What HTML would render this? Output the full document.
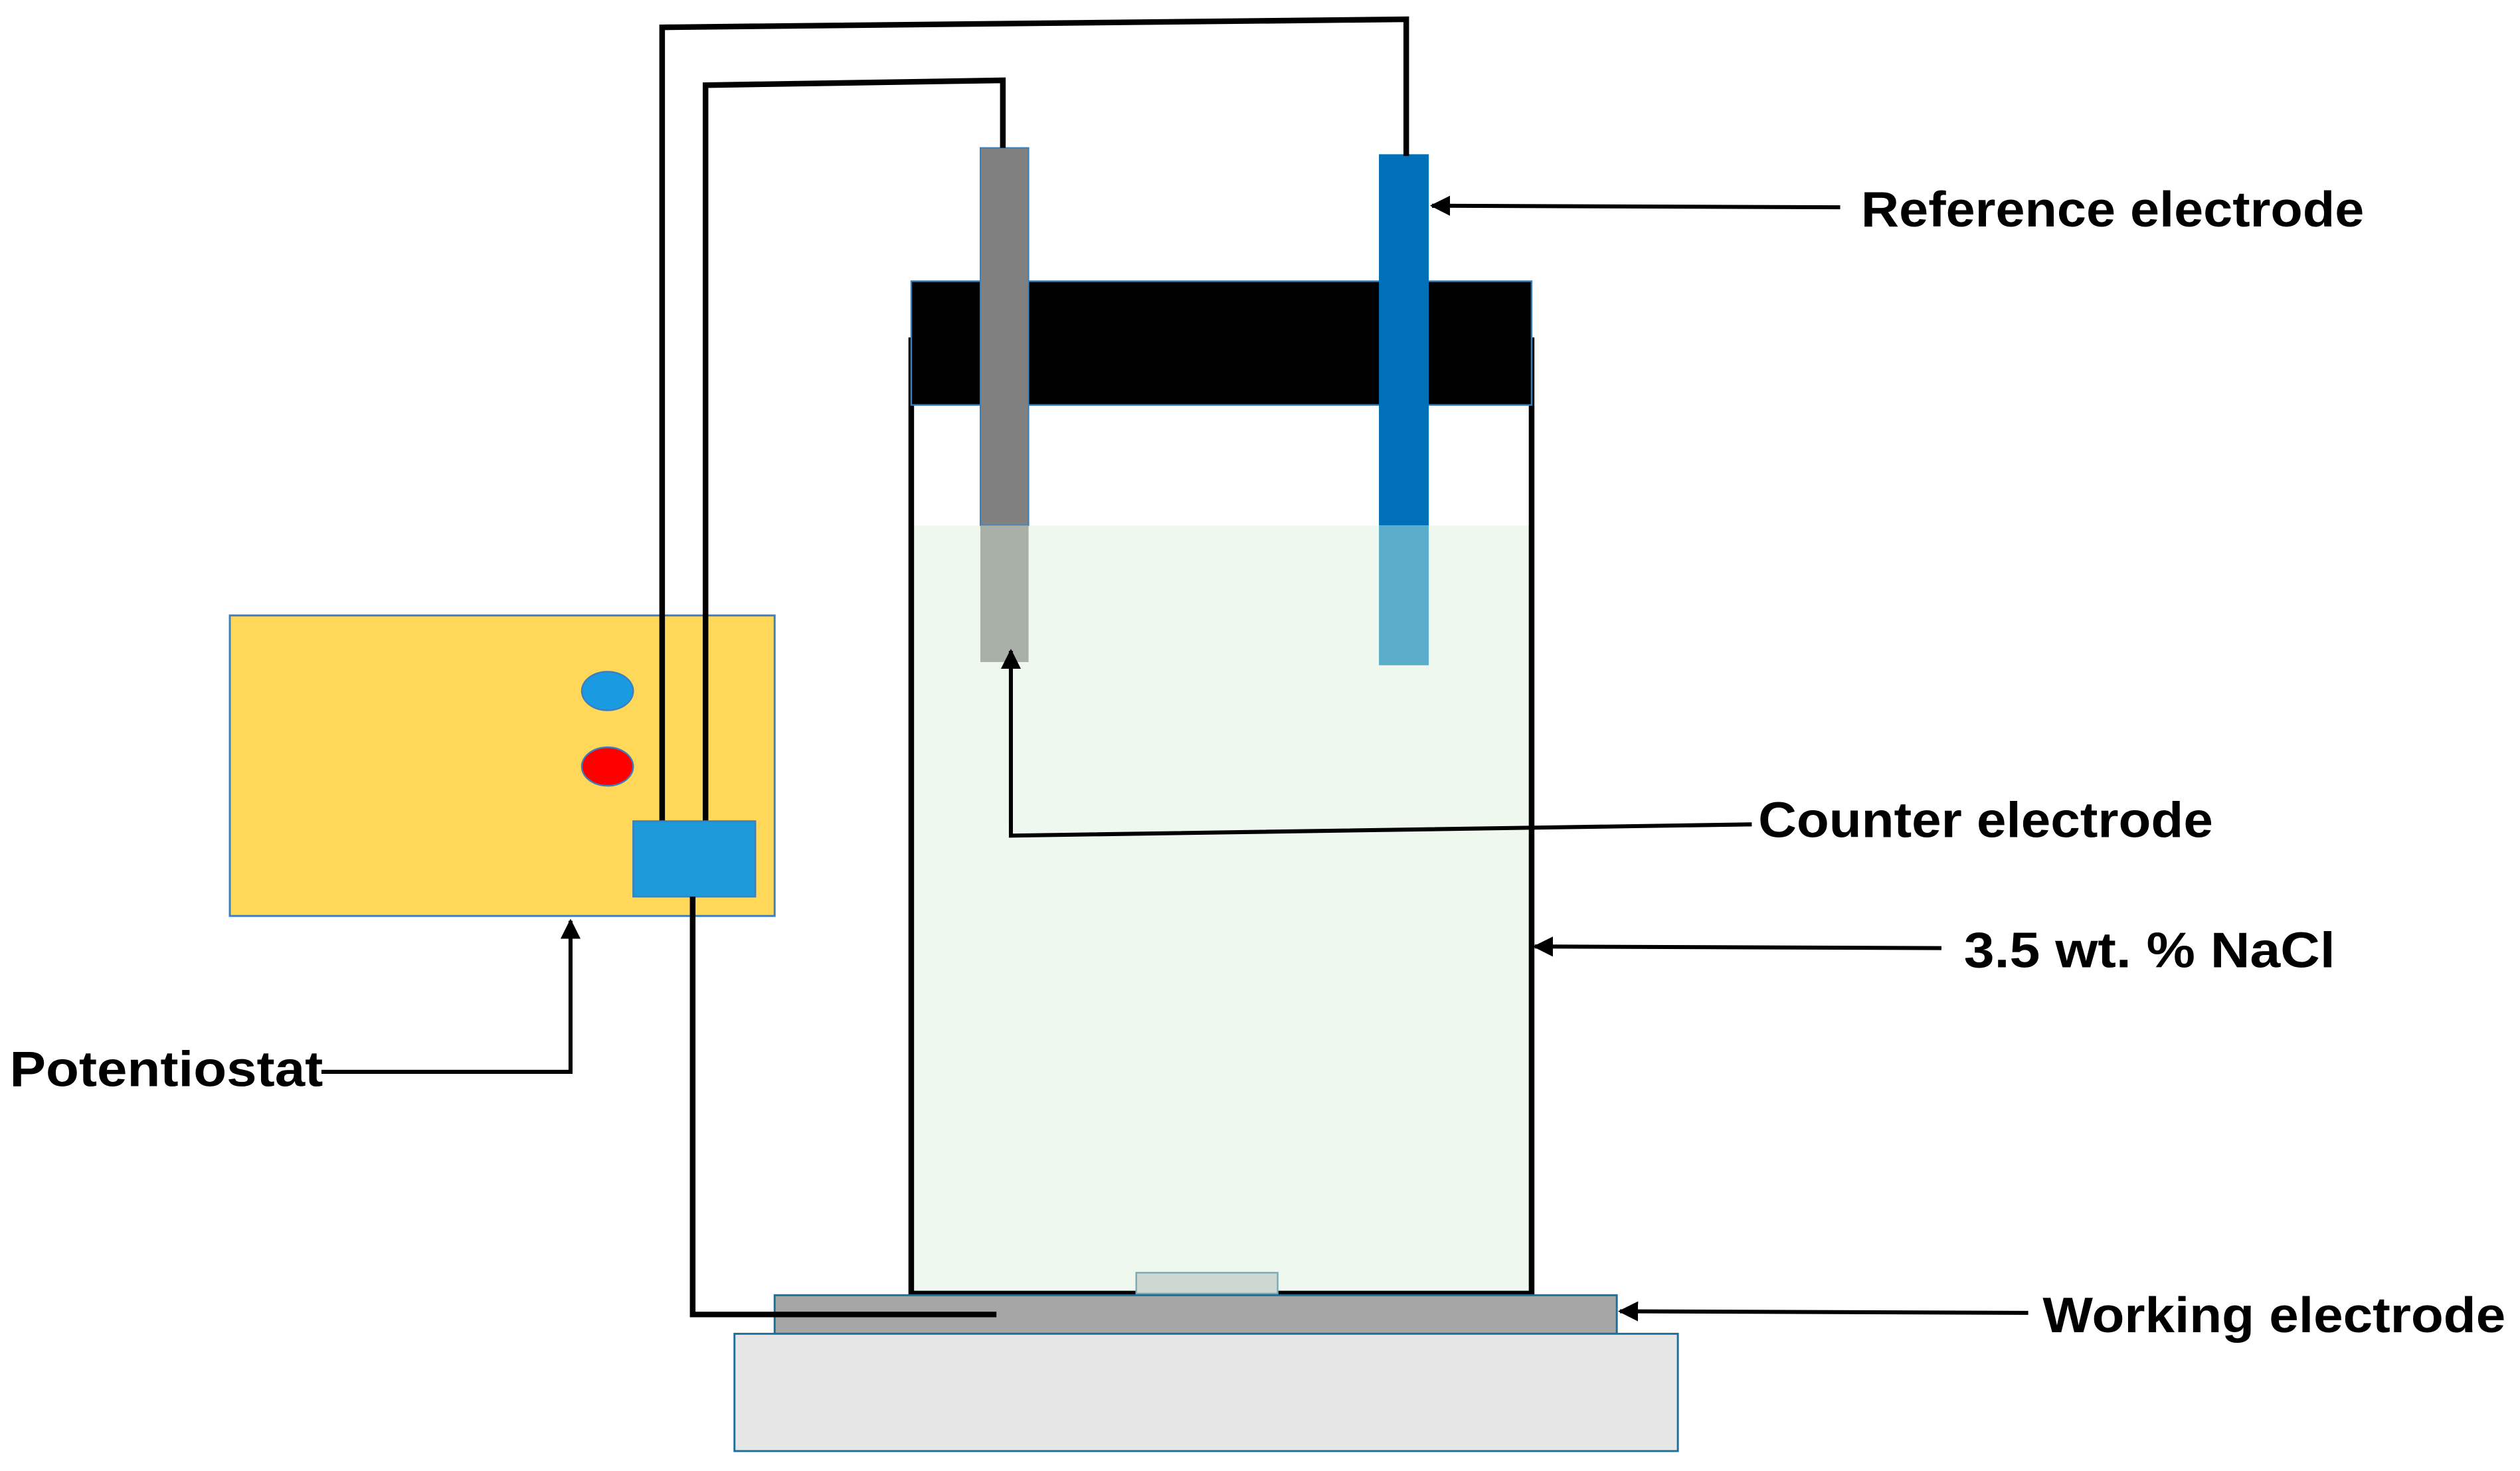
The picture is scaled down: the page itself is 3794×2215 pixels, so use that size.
<!DOCTYPE html>
<html><head><meta charset="utf-8"><style>
html,body{margin:0;padding:0;background:#fff;}
svg{display:block;}
text{font-family:"Liberation Sans",sans-serif;font-weight:bold;font-size:31px;fill:#000;}
</style></head><body>
<svg width="3794" height="2215" viewBox="0 0 1568 915.4" preserveAspectRatio="none" xmlns="http://www.w3.org/2000/svg">
<defs>
<marker id="ah" viewBox="0 0 10 10" refX="9" refY="5" markerWidth="5" markerHeight="5" orient="auto-start-reverse">
<path d="M0,0 L10,5 L0,10 Z" fill="#000"/></marker>
</defs>
<rect x="567" y="327" width="386" height="477" fill="#eef8ee"/>
<path d="M567,210 V805 H953 V210" fill="none" stroke="#000" stroke-width="3.5"/>
<rect x="567" y="175" width="386" height="77" fill="#000" stroke="#3a7fb8" stroke-width="1"/>
<rect x="610" y="92" width="30" height="235" fill="#808080" stroke="#3a7fb8" stroke-width="0.8"/>
<rect x="610" y="327" width="30" height="85" fill="#a8b0a8"/>
<rect x="858" y="96" width="31" height="231" fill="#0070b8"/>
<rect x="858" y="327" width="31" height="87" fill="#5aaecb"/>
<rect x="707" y="792" width="88" height="13" fill="#ccd8d0" stroke="#7aaab8" stroke-width="1"/>
<rect x="482" y="806" width="524" height="24" fill="#a6a6a6" stroke="#1a6e9a" stroke-width="1.2"/>
<rect x="457" y="830" width="587" height="73" fill="#e6e6e6" stroke="#1a6e9a" stroke-width="1.2"/>
<rect x="143" y="383" width="339" height="187" fill="#ffd85a" stroke="#3a7fc0" stroke-width="1.2"/>
<ellipse cx="378" cy="430" rx="16" ry="12" fill="#1a9ae0" stroke="#3a7fc0"/>
<ellipse cx="378" cy="477" rx="16" ry="12" fill="#ff0000" stroke="#3a7fc0"/>
<path d="M412,512 V17 L875,12 V97" fill="none" stroke="#000" stroke-width="3.5"/>
<path d="M439,512 V53 L624,50 V92" fill="none" stroke="#000" stroke-width="3.5"/>
<rect x="394" y="511" width="76" height="47" fill="#1e9ad8" stroke="#3a7fc0"/>
<path d="M431,558 V818 H620" fill="none" stroke="#000" stroke-width="3.5"/>
<g fill="none" stroke="#000" stroke-width="2.5">
<path d="M1145,129 L891,128" marker-end="url(#ah)"/>
<path d="M1090,513 L629,520 V405" marker-end="url(#ah)"/>
<path d="M1208,590 L955,589" marker-end="url(#ah)"/>
<path d="M1262,817 L1008,816" marker-end="url(#ah)"/>
<path d="M200,667 H355 V573" marker-end="url(#ah)"/>
</g>
<text x="1158" y="141" textLength="313" lengthAdjust="spacingAndGlyphs">Reference electrode</text>
<text x="1094" y="521" textLength="283" lengthAdjust="spacingAndGlyphs">Counter electrode</text>
<text x="1222" y="602" textLength="231" lengthAdjust="spacingAndGlyphs">3.5  wt. % NaCl</text>
<text x="1271" y="829" textLength="288" lengthAdjust="spacingAndGlyphs">Working electrode</text>
<text x="6" y="676" textLength="195" lengthAdjust="spacingAndGlyphs">Potentiostat</text>
</svg>
</body></html>
